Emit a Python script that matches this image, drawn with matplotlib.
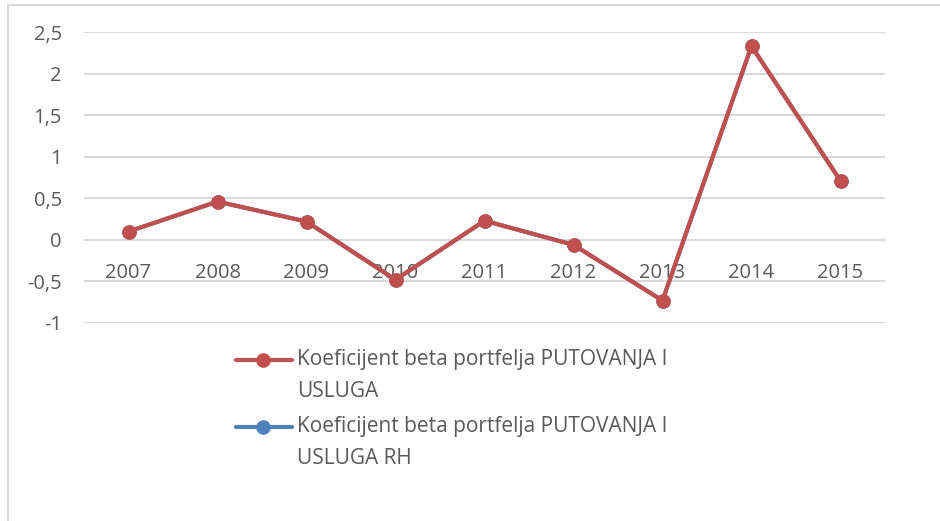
import matplotlib.pyplot as plt
from matplotlib.lines import Line2D
from matplotlib.patches import Rectangle

years = ["2007", "2008", "2009", "2010", "2011", "2012", "2013", "2014", "2015"]
beta_putovanja = [0.10, 0.46, 0.22, -0.48, 0.23, -0.06, -0.73, 2.33, 0.71]
beta_putovanja_rh = [0.10, 0.46, 0.22, -0.48, 0.23, -0.06, -0.73, 2.33, 0.71]
y_ticks = [-1, -0.5, 0, 0.5, 1, 1.5, 2, 2.5]
series_labels = [
    "Koeficijent beta portfelja PUTOVANJA I\nUSLUGA",
    "Koeficijent beta portfelja PUTOVANJA I\nUSLUGA RH",
]

RED = "#C0504D"
BLUE = "#4F81BD"
TEXT = "#595959"
GRID = "#D9D9D9"
W, H = 940, 521

plt.rcParams["font.family"] = ["Open Sans", "DejaVu Sans"]

fig = plt.figure(figsize=(W / 100, H / 100), dpi=100)
fig.patch.set_facecolor("white")
# chart-area border (continues past the right and bottom edges)
fig.add_artist(Rectangle((8 / W, -0.1), 1.2, 1 - 5 / H + 0.1, transform=fig.transFigure,
                         fill=False, edgecolor="#D9D9D9", linewidth=1.5))

ax = fig.add_axes([84 / W, 1 - 323 / H, (885 - 84) / W, (323 - 32) / H])
x = list(range(len(years)))
ax.plot(x, beta_putovanja_rh, color=BLUE, linewidth=3.0, marker="o", markersize=9.5, zorder=3)
ax.plot(x, beta_putovanja, color=RED, linewidth=3.0, marker="o", markersize=9.5, zorder=4)

ax.set_xlim(-0.5, len(years) - 0.5)
ax.set_ylim(-1, 2.5)
ax.set_yticks(y_ticks)
ax.set_yticklabels([f"{v:g}".replace(".", ",") for v in y_ticks])
ax.set_xticks(x)
ax.set_xticklabels(years)
ax.yaxis.grid(True, color=GRID, linewidth=1.5)
ax.set_axisbelow(True)
for s in ax.spines.values():
    s.set_visible(False)
ax.spines["bottom"].set_position(("data", 0))
ax.tick_params(axis="x", length=0, pad=17, labelsize=14.5, labelcolor=TEXT)
ax.tick_params(axis="y", length=0, pad=16, labelsize=14.5, labelcolor=TEXT)

# legend: handle aligned with the first line of each wrapped label
for i, (label, color) in enumerate(zip(series_labels, [RED, BLUE])):
    yc = 360 + i * 67
    fig.add_artist(Line2D([236 / W, 292 / W], [1 - yc / H] * 2, transform=fig.transFigure,
                          color=color, linewidth=3.0, solid_capstyle="round"))
    fig.add_artist(Line2D([263 / W], [1 - yc / H], transform=fig.transFigure,
                          color=color, marker="o", markersize=9.5))
    fig.text(297 / W, 1 - (yc - 11) / H, label, ha="left", va="top",
             fontsize=15, color=TEXT, linespacing=1.7)

fig.savefig("out.png", dpi=100)
